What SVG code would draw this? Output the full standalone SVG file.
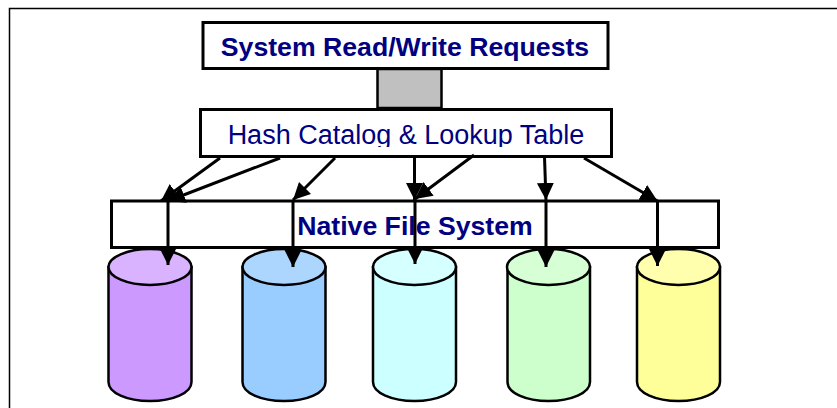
<svg xmlns="http://www.w3.org/2000/svg" width="837" height="408" viewBox="0 0 837 408">
<style>
.box{fill:#fff;stroke:#000;stroke-width:3}
.cyl{stroke:#000;stroke-width:2.5}
.top{stroke:#000;stroke-width:2.5}
.t{font-family:"Liberation Sans",Arial,sans-serif;fill:#000080;text-anchor:middle;font-size:26.67px}
.b{font-weight:bold}
.c line{stroke:#000;stroke-width:3;marker-end:url(#a)}
</style>
<defs>
<marker id="a" markerUnits="userSpaceOnUse" markerWidth="20" markerHeight="20" refX="17" refY="8.500" orient="auto"><path d="M0 0L17 8.500L0 17Z" fill="#000"/></marker>
<clipPath id="hc"><rect x="200" y="110" width="412" height="37"/></clipPath>
</defs>
<rect width="837" height="408" fill="#fff"/>
<path d="M9.500 408V8.500H837" fill="none" stroke="#000" stroke-width="1.500"/>
<g id="gray-link"><rect x="377.500" y="69" width="64" height="39" fill="#c0c0c0" stroke="#000" stroke-width="2.500"/></g>
<g id="requests"><rect class="box" x="203" y="22.500" width="405" height="46"/><text class="t b" x="405" y="56">System Read/Write Requests</text></g>
<g id="hash"><rect class="box" x="200.500" y="109.500" width="411" height="47"/><text class="t" x="406" y="144" style="font-size:27px" clip-path="url(#hc)">Hash Catalog &amp; Lookup Table</text></g>
<g id="native"><rect class="box" x="111.500" y="201" width="607" height="46.500"/><text class="t b" x="415" y="235">Native File System</text></g>
<g id="disk1"><path class="cyl" fill="#cc99ff" d="M108.500 267V382C108.500 393 127 401 150 401S191.500 393 191.500 382V267Z"/><ellipse class="top" fill="#d9b3ff" cx="150" cy="267" rx="41.500" ry="18"/></g>
<g id="disk2"><path class="cyl" fill="#99ccff" d="M242.500 267V382C242.500 393 261 401 284 401S325.500 393 325.500 382V267Z"/><ellipse class="top" fill="#add6ff" cx="284" cy="267" rx="41.500" ry="18"/></g>
<g id="disk3"><path class="cyl" fill="#ccffff" d="M373 267V382C373 393 392 401 414.500 401S456 393 456 382V267Z"/><ellipse class="top" fill="#d6ffff" cx="414.500" cy="267" rx="41.500" ry="18"/></g>
<g id="disk4"><path class="cyl" fill="#ccffcc" d="M507.500 267V382C507.500 393 526 401 548.500 401S590 393 590 382V267Z"/><ellipse class="top" fill="#d6ffd6" cx="548.500" cy="267" rx="41.500" ry="18"/></g>
<g id="disk5"><path class="cyl" fill="#ffff99" d="M637 267V382C637 393 656 401 678.500 401S720 393 720 382V267Z"/><ellipse class="top" fill="#ffffad" cx="678.500" cy="267" rx="41.500" ry="18"/></g>
<g id="connectors" class="c">
<line x1="220" y1="158" x2="161" y2="201"/>
<line x1="280" y1="158" x2="168" y2="201"/>
<line x1="335" y1="158" x2="293" y2="200"/>
<line x1="414.500" y1="157" x2="414.500" y2="200"/>
<line x1="474" y1="155" x2="415" y2="199"/>
<line x1="544.500" y1="157" x2="546" y2="200"/>
<line x1="584" y1="158" x2="657.500" y2="201"/>
<line x1="168" y1="201" x2="168" y2="265"/>
<line x1="293" y1="201" x2="293" y2="267"/>
<line x1="415" y1="199" x2="415" y2="264"/>
<line x1="546" y1="201" x2="546" y2="267"/>
<line x1="657.500" y1="201" x2="657.500" y2="266"/>
</g>
</svg>
